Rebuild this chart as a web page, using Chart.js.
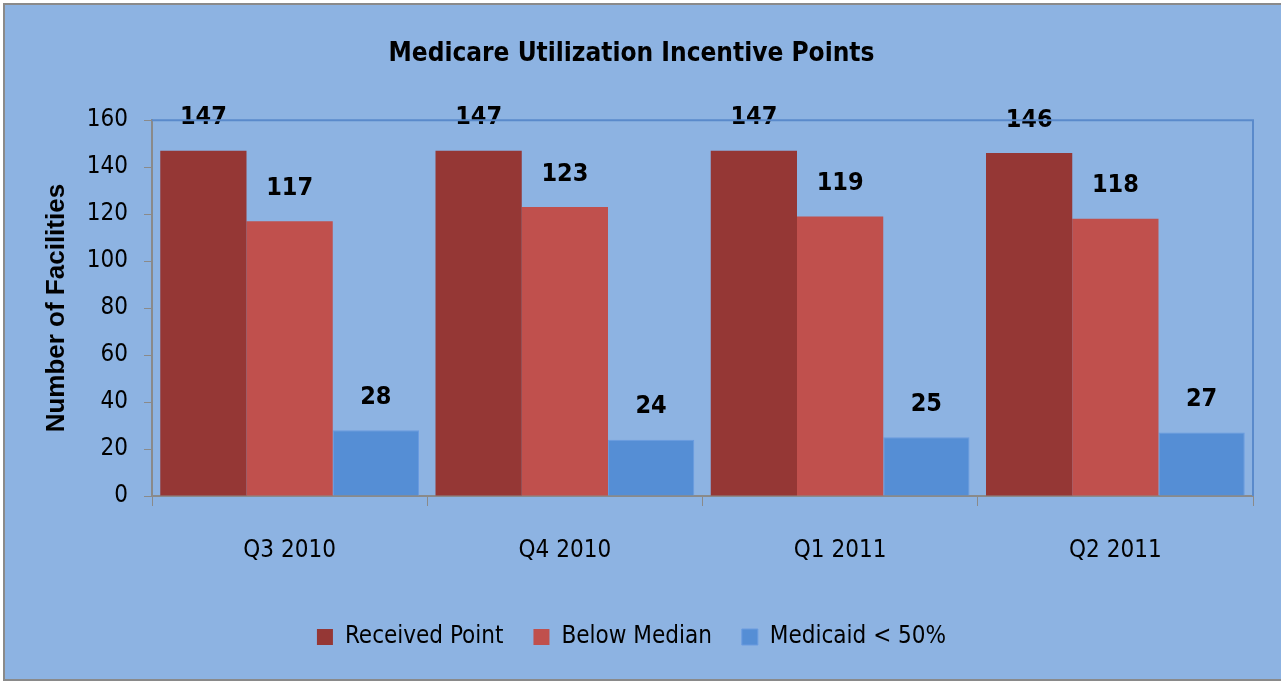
<!DOCTYPE html>
<html>
<head>
<meta charset="utf-8">
<script src="https://cdn.jsdelivr.net/npm/chart.js@4.4.0/dist/chart.umd.min.js"></script>
<style>
  html, body { margin: 0; padding: 0; background: #fff; }
  #wrap { width: 1281px; height: 681px; }
</style>
</head>
<body>
<div id="wrap"><canvas id="chart1"></canvas></div>
<script>
// Data
// ========================================================================
var quarters = ["Q3 2010", "Q4 2010", "Q1 2011", "Q2 2011"];
var receivedPoint = [147, 147, 147, 146];
var belowMedian = [117, 123, 119, 118];
var medicaidUnder50 = [28, 24, 25, 27];
var yTicks = [0, 20, 40, 60, 80, 100, 120, 140, 160];

var narrow = "'Liberation Sans Narrow', 'Arial Narrow', 'DejaVu Sans Condensed', sans-serif";

// background, outer border, top/right plot border
var framePlugin = {
  id: 'frame',
  beforeDraw: function (chart) {
    var ctx = chart.ctx;
    ctx.save();
    ctx.fillStyle = '#ffffff';
    ctx.fillRect(0, 0, chart.width, chart.height);
    ctx.fillStyle = '#8db3e2';
    ctx.fillRect(4, 4, chart.width, chart.height - 5);
    ctx.strokeStyle = '#8a8a8a';
    ctx.lineWidth = 2;
    ctx.strokeRect(4, 4, chart.width + 10, chart.height - 5);
    ctx.restore();
  },
  afterDraw: function (chart) {
    var a = chart.chartArea, ctx = chart.ctx;
    ctx.save();
    ctx.strokeStyle = '#5a8acb';
    ctx.lineWidth = 2;
    ctx.beginPath();
    ctx.moveTo(a.left, a.top);
    ctx.lineTo(a.right, a.top);
    ctx.lineTo(a.right, a.bottom);
    ctx.stroke();
    ctx.restore();
  }
};

// value labels above bars
var valueLabels = {
  id: 'valueLabels',
  afterDatasetsDraw: function (chart) {
    var ctx = chart.ctx;
    ctx.save();
    ctx.font = 'bold 25px ' + narrow;
    ctx.fillStyle = '#000';
    ctx.textAlign = 'center';
    ctx.textBaseline = 'middle';
    chart.data.datasets.forEach(function (ds, i) {
      chart.getDatasetMeta(i).data.forEach(function (bar, j) {
        ctx.fillText(ds.data[j], bar.x, bar.y - 33);
      });
    });
    ctx.restore();
  }
};

var char1El = document.getElementById('chart1');
new Chart(char1El, {
  type: 'bar',
  data: {
    labels: quarters,
    datasets: [{
      label: "Received Point",
      backgroundColor: "#953735",
      data: receivedPoint
    }, {
      label: "Below Median",
      backgroundColor: "#c0504d",
      data: belowMedian
    }, {
      label: "Medicaid < 50%",
      backgroundColor: "#558ed5",
      borderColor: "#6a9be0",
      borderWidth: 1,
      data: medicaidUnder50
    }]
  },
  plugins: [framePlugin, valueLabels],
  options: {
    responsive: true,
    maintainAspectRatio: false,
    animation: false,
    layout: {
      padding: { left: 10, right: 28, top: 0, bottom: 22 }
    },
    datasets: {
      bar: { categoryPercentage: 0.94, barPercentage: 1.0 }
    },
    plugins: {
      title: {
        display: true,
        text: 'Medicare Utilization Incentive Points',
        color: '#000',
        font: { family: narrow, size: 26, weight: 'bold' },
        padding: { top: 39, bottom: 50 }
      },
      legend: {
        position: 'bottom',
        labels: {
          color: '#000',
          font: { family: narrow, size: 24 },
          boxWidth: 16,
          boxHeight: 16,
          padding: 30
        }
      },
      tooltip: { enabled: false }
    },
    scales: {
      x: {
        afterFit: function (scale) { scale.height = 99; },
        grid: {
          offset: true,
          drawOnChartArea: false,
          color: '#8a8a8a',
          tickLength: 10
        },
        border: { color: '#8a8a8a', width: 2 },
        ticks: {
          color: '#000',
          padding: 30,
          font: { family: narrow, size: 24 }
        }
      },
      y: {
        min: 0,
        max: 160,
        afterFit: function (scale) { scale.width = 142; },
        afterBuildTicks: function (scale) {
          scale.ticks = yTicks.map(function (v) { return { value: v }; });
        },
        grid: {
          drawOnChartArea: false,
          color: '#8a8a8a',
          tickLength: 8
        },
        border: { color: '#8a8a8a', width: 2 },
        ticks: {
          color: '#000',
          padding: 16,
          font: { family: narrow, size: 24 }
        },
        title: {
          display: true,
          text: 'Number of Facilities',
          color: '#000',
          font: { family: "'Liberation Sans', Arial, sans-serif", size: 26, weight: 'bold' },
          padding: { top: 31, bottom: 0 }
        }
      }
    }
  }
});
</script>
</body>
</html>
